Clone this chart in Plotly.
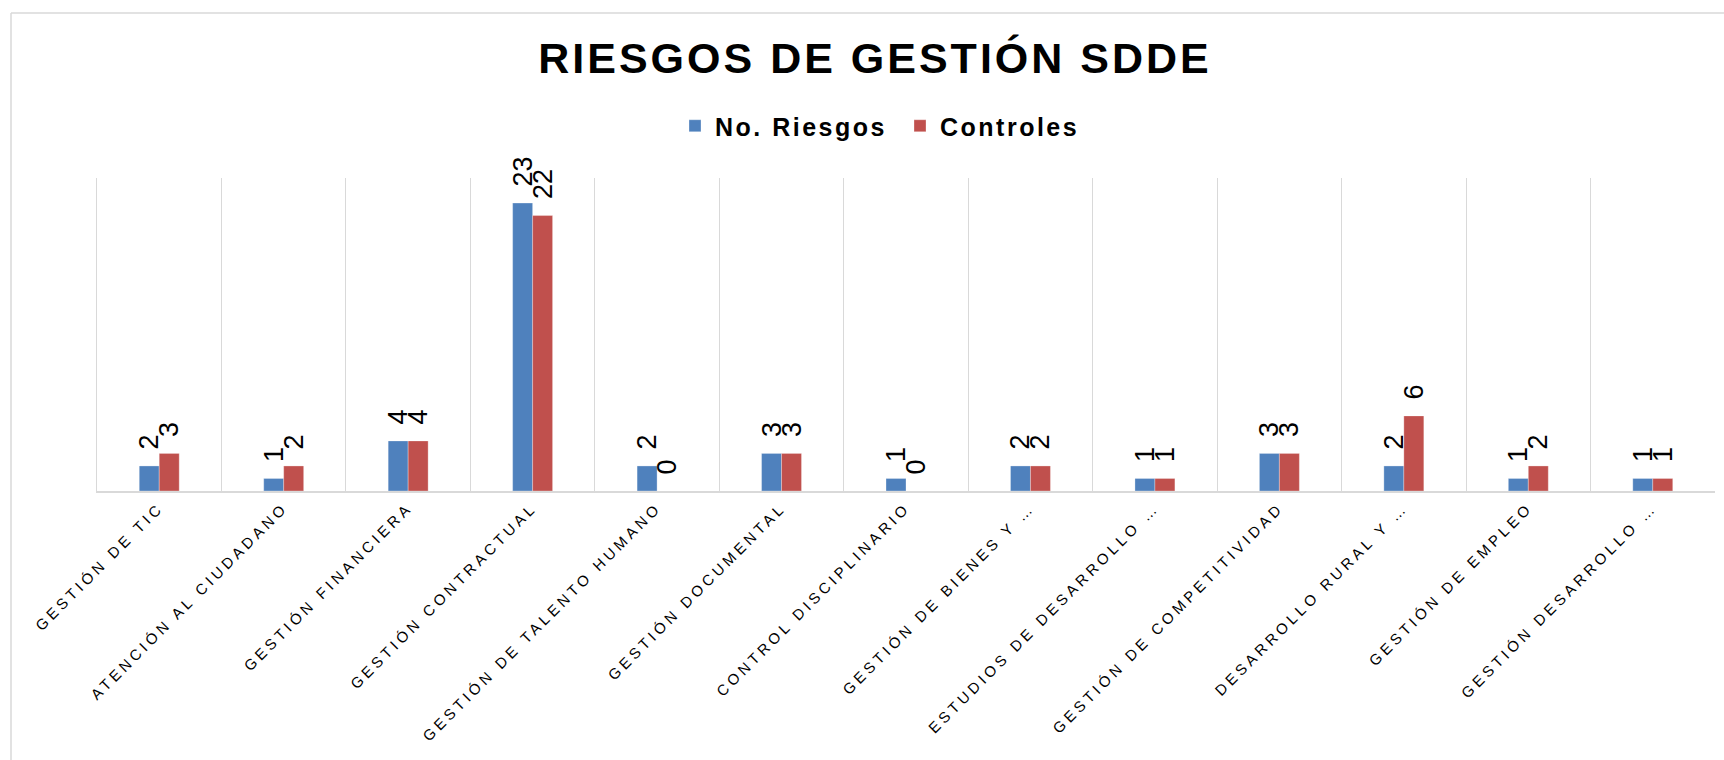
import plotly.graph_objects as go

# Processes and counts of risks / controls
categories = [
    "GESTIÓN DE TIC",
    "ATENCIÓN AL CIUDADANO",
    "GESTIÓN FINANCIERA",
    "GESTIÓN CONTRACTUAL",
    "GESTIÓN DE TALENTO HUMANO",
    "GESTIÓN DOCUMENTAL",
    "CONTROL DISCIPLINARIO",
    "GESTIÓN DE BIENES Y …",
    "ESTUDIOS DE DESARROLLO …",
    "GESTIÓN DE COMPETITIVIDAD",
    "DESARROLLO RURAL Y …",
    "GESTIÓN DE EMPLEO",
    "GESTIÓN DESARROLLO …",
]
riesgos = [2, 1, 4, 23, 2, 3, 1, 2, 1, 3, 2, 1, 1]
controles = [3, 2, 4, 22, 0, 3, 0, 2, 1, 3, 6, 2, 1]

W, H = 1724, 760
ML, MR, MT, MB = 97, 9, 178, 269
PW, PH = W - ML - MR, H - MT - MB

FONT = "Liberation Sans, Arial, sans-serif"
BLUE = "#4F81BD"
RED = "#C0504D"
GRID = "#D9D9D9"


def px_x(p):
    return (p - ML) / PW


def px_y(p):
    return (H - MB - p) / PH


label_font = dict(family=FONT, size=27, color="#000000")

fig = go.Figure()
fig.add_trace(go.Bar(
    name="No. Riesgos", x=categories, y=riesgos,
    marker=dict(color=BLUE, line=dict(color="rgba(255,255,255,0.5)", width=0.6)),
    texttemplate="\u2002%{y}", textposition="outside", textangle=-90,
    textfont=label_font, cliponaxis=False, constraintext="none",
))
fig.add_trace(go.Bar(
    name="Controles", x=categories, y=controles,
    marker=dict(color=RED, line=dict(color="rgba(255,255,255,0.5)", width=0.6)),
    texttemplate="\u2002%{y}", textposition="outside", textangle=-90,
    textfont=label_font, cliponaxis=False, constraintext="none",
))

fig.update_layout(
    width=W, height=H, autosize=False,
    margin=dict(l=ML, r=MR, t=MT, b=MB, pad=0),
    paper_bgcolor="white", plot_bgcolor="white",
    barmode="group", bargap=0.679, bargroupgap=0,
    font=dict(family=FONT, color="#000000"),
    title=dict(
        text="RIESGOS DE GESTIÓN SDDE",
        font=dict(family=FONT, size=43, color="#000000", weight="bold"),
        x=875 / W, xref="container", xanchor="center",
        y=1 - 58 / H, yref="container", yanchor="middle",
    ),
    legend=dict(
        orientation="h",
        x=900 / W, xref="container", xanchor="center",
        y=1 - 126 / H, yref="container", yanchor="middle",
        font=dict(family=FONT, size=25, color="#000000", weight="bold"),
        entrywidth=180, entrywidthmode="pixels",
        itemwidth=30, traceorder="normal",
    ),
    xaxis=dict(
        type="category", tickson="boundaries",
        showgrid=True, gridcolor=GRID, gridwidth=1,
        showline=True, linecolor=GRID, linewidth=2,
        ticks="", tickangle=-45,
        tickfont=dict(family=FONT, size=15, color="#000000"),
        zeroline=False,
    ),
    yaxis=dict(
        range=[0, 25], showgrid=False, zeroline=False,
        showticklabels=False, ticks="",
        showline=True, linecolor=GRID, linewidth=1,
    ),
    shapes=[
        dict(type="line", xref="paper", yref="paper",
             x0=px_x(11), x1=px_x(W + 20), y0=px_y(13), y1=px_y(13),
             line=dict(color=GRID, width=1.5)),
        dict(type="line", xref="paper", yref="paper",
             x0=px_x(11), x1=px_x(11), y0=px_y(13), y1=px_y(H + 20),
             line=dict(color=GRID, width=1.5)),
    ],
)

# Spread the letters of the axis labels, legend and title
post_js = """
var gd = document.getElementById('{plot_id}');
function spreadText() {
  gd.querySelectorAll('.xtick text').forEach(function (t) { t.style.letterSpacing = '3.8px'; });
  gd.querySelectorAll('.legendtext').forEach(function (t) { t.style.letterSpacing = '2.5px'; });
  gd.querySelectorAll('.gtitle').forEach(function (t) { t.style.letterSpacing = '3px'; });
}
spreadText();
gd.on('plotly_afterplot', spreadText);
"""

fig.write_html("out.html", post_script=post_js)
